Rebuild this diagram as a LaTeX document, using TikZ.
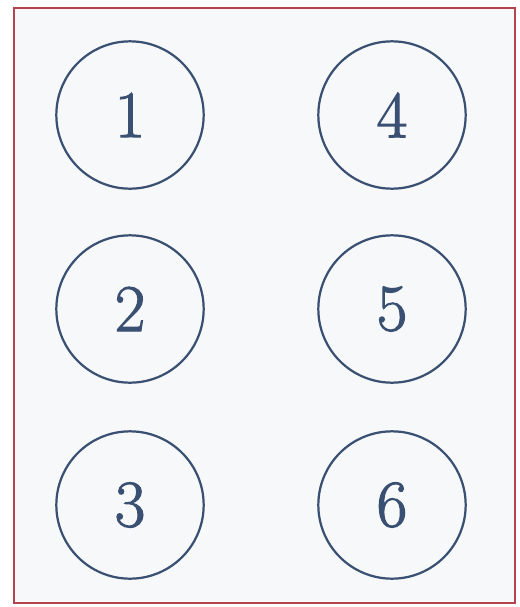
\documentclass[tikz,border=0pt]{standalone}
\usepackage[dvipsnames]{xcolor}
\usepackage{fontspec}
\usetikzlibrary{positioning}
\newfontfamily\numfont[FakeBold=1.6]{Latin Modern Roman}
\definecolor{ink}{HTML}{3A5072}
\definecolor{frame}{HTML}{B2454F}
\definecolor{paper}{HTML}{F7F8FA}

\begin{document}
\begin{tikzpicture}[
  x=0.03cm, y=-0.03cm,
  slot/.style={circle, draw=ink, line width=1.9pt, inner sep=0pt,
               minimum size=4.42cm, text=ink,
               font=\numfont\fontsize{57}{57}\selectfont},
  panel/.style={draw=frame, fill=paper, line width=1.5pt},
]

%% ---------------- page ----------------
\useasboundingbox (0,0) rectangle (519,607);
\fill[white] (0,0) rectangle (519,607);
\node[panel, minimum width=15.03cm, minimum height=17.85cm, anchor=north west]
  (card) at (13,7) {};

%% ---------------- left column ----------------
\node[slot] (s1) at (130,115) {1};
\node[slot] (s2) at (130,309) {2};
\node[slot] (s3) at (130,505) {3};

%% ---------------- right column ----------------
\node[slot] (s4) at (392,115) {4};
\node[slot] (s5) at (392,309) {5};
\node[slot] (s6) at (392,505) {6};

\end{tikzpicture}
\end{document}
